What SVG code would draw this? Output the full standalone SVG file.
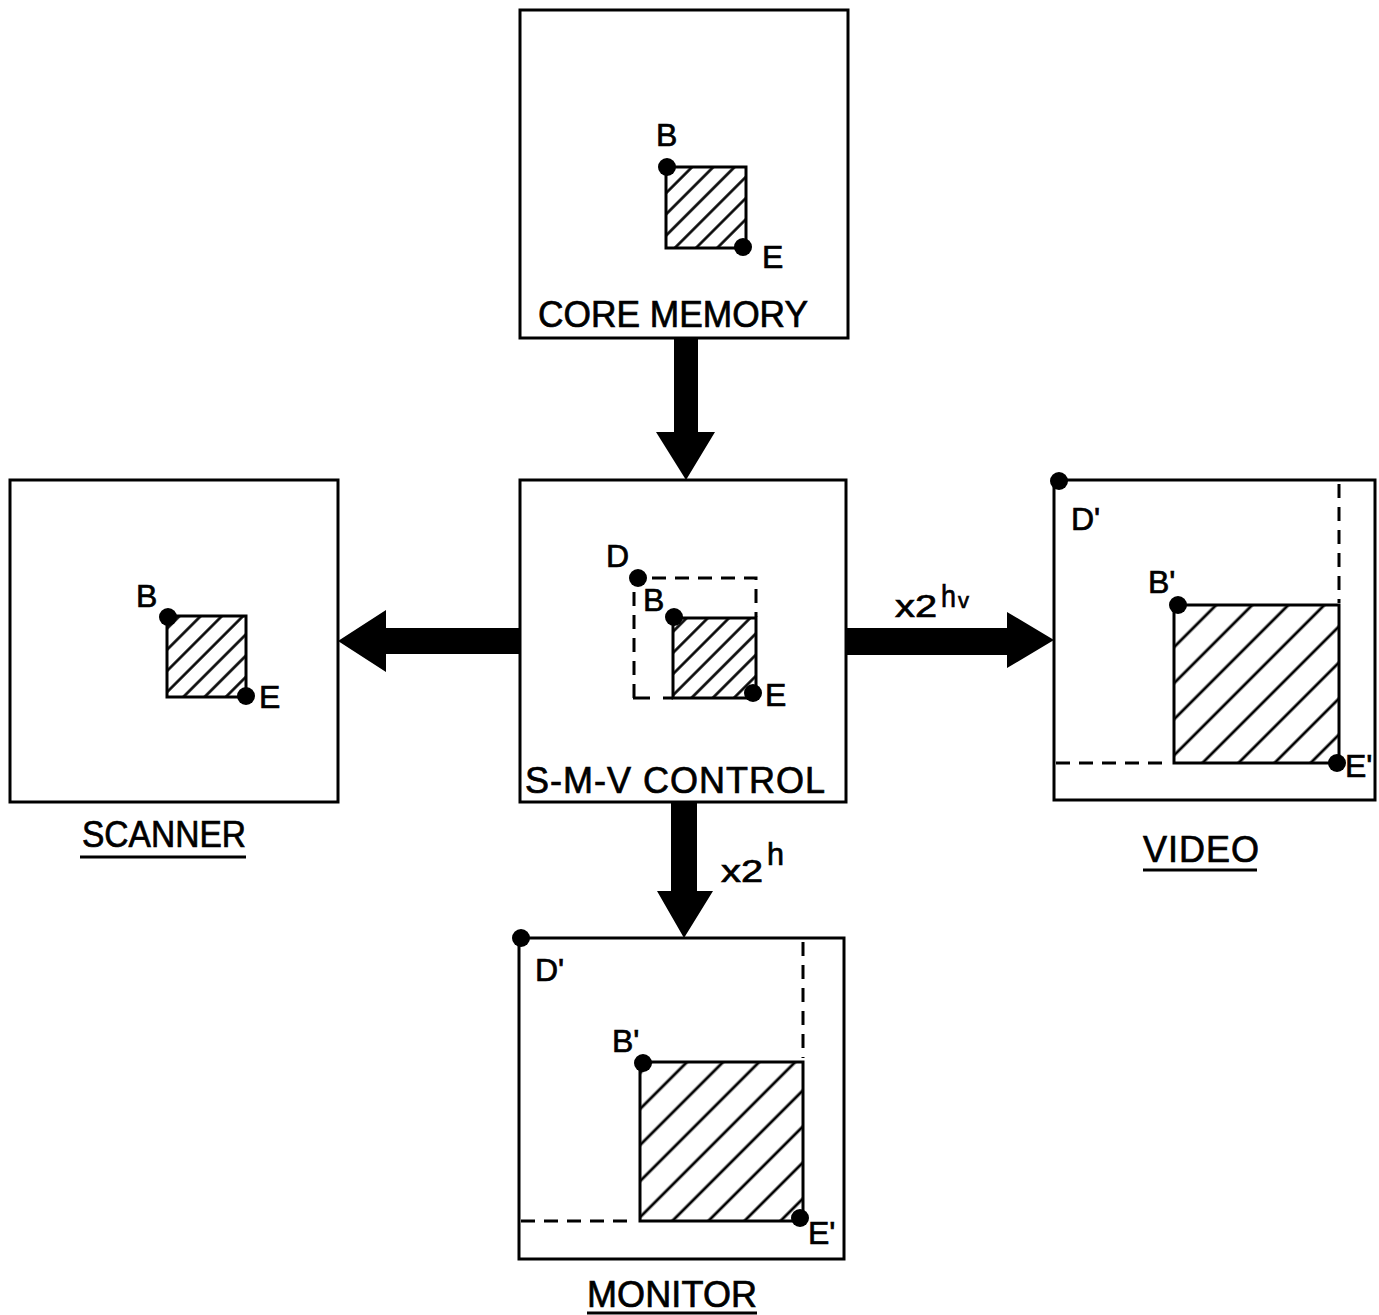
<svg xmlns="http://www.w3.org/2000/svg" width="1379" height="1315" viewBox="0 0 1379 1315">
  <style>
    .box { fill: #fff; stroke: #000; stroke-width: 3; }
    .win { stroke: #000; stroke-width: 3; }
    .dash { fill: none; stroke: #000; stroke-width: 3; stroke-dasharray: 14 9; }
    .dot { fill: #000; }
    .lbl { font-family: "Liberation Sans", Arial, sans-serif; font-size: 32px; fill: #000; stroke: #000; stroke-width: 0.7; }
    .title { font-family: "Liberation Sans", Arial, sans-serif; font-size: 36px; fill: #000; stroke: #000; stroke-width: 0.7; }
    .uline { stroke: #000; stroke-width: 3; }
    .arrow { fill: #000; }
  </style>
  <defs>
    <pattern id="hatchS" width="15" height="15" patternUnits="userSpaceOnUse" patternTransform="rotate(45)">
      <line x1="7.5" y1="0" x2="7.5" y2="15" stroke="#000" stroke-width="2.6"/>
    </pattern>
    <pattern id="hatchL" width="25.5" height="25.5" patternUnits="userSpaceOnUse" patternTransform="rotate(45)">
      <line x1="12.75" y1="0" x2="12.75" y2="25.5" stroke="#000" stroke-width="2.8"/>
    </pattern>
  </defs>
  <rect width="1379" height="1315" fill="#fff"/>

  <!-- connectors: block arrows -->
  <g id="connectors">
    <!-- core memory down to control -->
    <polygon class="arrow" points="674,338 698,338 698,432 715,432 686,480 656,432 674,432"/>
    <!-- control left to scanner -->
    <polygon class="arrow" points="520,628 520,654 386,654 386,672 338,641 386,610 386,628"/>
    <!-- control right to video -->
    <polygon class="arrow" points="846,628 846,655 1007,655 1007,668 1054,640 1007,612 1007,628"/>
    <!-- control down to monitor -->
    <polygon class="arrow" points="671,802 697,802 697,891 713,891 684,938 657,891 671,891"/>
    <text class="lbl" x="895" y="617" textLength="42" lengthAdjust="spacingAndGlyphs">x2</text>
    <text class="lbl" x="941" y="607" textLength="15" lengthAdjust="spacingAndGlyphs">h</text>
    <text class="lbl" x="958" y="608" style="font-size:22px">v</text>
    <text class="lbl" x="721" y="882" textLength="42" lengthAdjust="spacingAndGlyphs">x2</text>
    <text class="lbl" x="767" y="865" textLength="17" lengthAdjust="spacingAndGlyphs">h</text>
  </g>

  <!-- core memory -->
  <g id="core-memory">
    <rect class="box" x="520" y="10" width="328" height="328"/>
    <rect class="win" x="666" y="167" width="80" height="81" fill="url(#hatchS)"/>
    <circle class="dot" cx="667" cy="167" r="9"/>
    <circle class="dot" cx="743" cy="247" r="9"/>
    <text class="lbl" x="656" y="146">B</text>
    <text class="lbl" x="762" y="268">E</text>
    <text class="title" x="538" y="327" textLength="270" lengthAdjust="spacingAndGlyphs">CORE MEMORY</text>
  </g>

  <!-- scanner -->
  <g id="scanner">
    <rect class="box" x="10" y="480" width="328" height="322"/>
    <rect class="win" x="167" y="616" width="79" height="81" fill="url(#hatchS)"/>
    <circle class="dot" cx="168" cy="617" r="9"/>
    <circle class="dot" cx="246" cy="696" r="9"/>
    <text class="lbl" x="136" y="607">B</text>
    <text class="lbl" x="259" y="708">E</text>
    <text class="title" x="82" y="847" textLength="164" lengthAdjust="spacingAndGlyphs">SCANNER</text>
    <line class="uline" x1="80" y1="857" x2="246" y2="857"/>
  </g>

  <!-- S-M-V control -->
  <g id="smv-control">
    <rect class="box" x="520" y="480" width="326" height="322"/>
    <path class="dash" d="M634,698 V578 H756 V617"/>
    <line class="win" x1="633" y1="698" x2="650" y2="698"/>
    <line class="win" x1="663" y1="698" x2="673" y2="698"/>
    <rect class="win" x="673" y="618" width="83" height="80" fill="url(#hatchS)"/>
    <circle class="dot" cx="638" cy="578" r="9"/>
    <circle class="dot" cx="674" cy="617" r="9"/>
    <circle class="dot" cx="753" cy="693" r="9"/>
    <text class="lbl" x="606" y="567">D</text>
    <text class="lbl" x="643" y="611">B</text>
    <text class="lbl" x="765" y="706">E</text>
    <text class="title" x="525" y="793" textLength="300" lengthAdjust="spacing">S-M-V CONTROL</text>
  </g>

  <!-- video -->
  <g id="video">
    <rect class="box" x="1054" y="480" width="321" height="320"/>
    <line class="dash" x1="1339" y1="484" x2="1339" y2="603"/>
    <line class="dash" x1="1056" y1="763" x2="1168" y2="763"/>
    <rect class="win" x="1174" y="605" width="165" height="158" fill="url(#hatchL)"/>
    <circle class="dot" cx="1059" cy="481" r="9"/>
    <circle class="dot" cx="1178" cy="605" r="9"/>
    <circle class="dot" cx="1337" cy="763" r="9"/>
    <text class="lbl" x="1071" y="530">D'</text>
    <text class="lbl" x="1148" y="593">B'</text>
    <text class="lbl" x="1345" y="777">E'</text>
    <text class="title" x="1143" y="862" textLength="116" lengthAdjust="spacing">VIDEO</text>
    <line class="uline" x1="1143" y1="870" x2="1257" y2="870"/>
  </g>

  <!-- monitor -->
  <g id="monitor">
    <rect class="box" x="519" y="938" width="325" height="321"/>
    <line class="dash" x1="803" y1="942" x2="803" y2="1058"/>
    <line class="dash" x1="521" y1="1221" x2="636" y2="1221"/>
    <rect class="win" x="640" y="1062" width="163" height="159" fill="url(#hatchL)"/>
    <circle class="dot" cx="521" cy="938" r="9"/>
    <circle class="dot" cx="643" cy="1063" r="9"/>
    <circle class="dot" cx="800" cy="1218" r="9"/>
    <text class="lbl" x="535" y="981">D'</text>
    <text class="lbl" x="612" y="1052">B'</text>
    <text class="lbl" x="808" y="1244">E'</text>
    <text class="title" x="587" y="1307" textLength="170" lengthAdjust="spacing">MONITOR</text>
    <line class="uline" x1="587" y1="1313" x2="757" y2="1313"/>
  </g>
</svg>
